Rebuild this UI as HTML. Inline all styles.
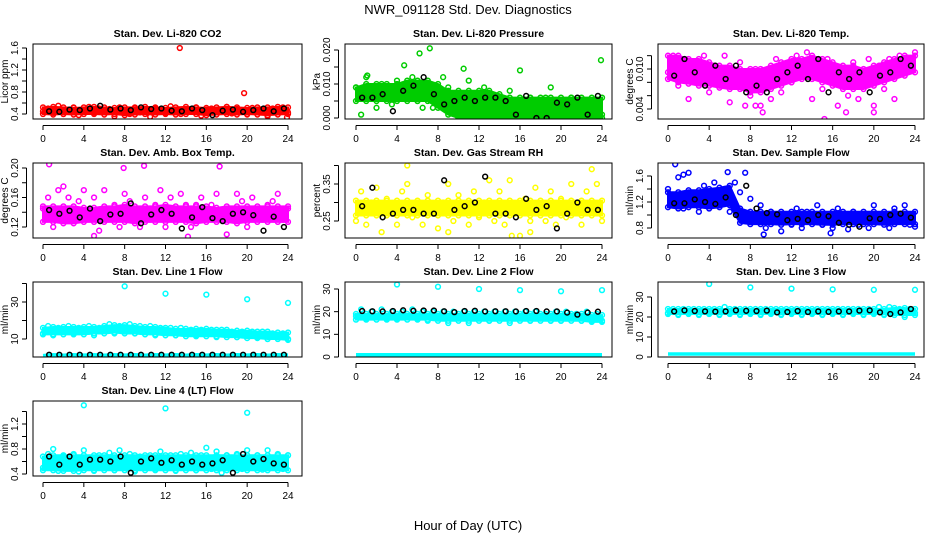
<!DOCTYPE html>
<html><head><meta charset="utf-8"><style>
html,body{margin:0;padding:0;background:#fff}
svg{display:block;font-family:"Liberation Sans",Arial,sans-serif}
</style></head><body>
<svg id="chart" width="936" height="540" viewBox="0 0 936 540">
<rect width="936" height="540" fill="#fff"/>
<text x="468" y="14" text-anchor="middle" font-size="13">NWR_091128  Std. Dev. Diagnostics</text>
<text x="468" y="530" text-anchor="middle" font-size="13">Hour of Day (UTC)</text>
</svg>
<script>
const xTicks=[0,4,8,12,16,20,24];
const hours=[0,1,2,3,4,5,6,7,8,9,10,11,12,13,14,15,16,17,18,19,20,21,22,23,24];
// P1 CO2
const co2Hi=[0.52,0.53,0.52,0.51,0.52,0.53,0.52,0.51,0.52,0.52,0.53,0.52,0.51,0.52,0.53,0.52,0.51,0.52,0.53,0.52,0.51,0.52,0.52,0.53,0.52];
const co2Lo=[0.4,0.39,0.4,0.39,0.4,0.4,0.39,0.4,0.38,0.39,0.4,0.39,0.4,0.39,0.4,0.4,0.38,0.39,0.4,0.39,0.4,0.39,0.38,0.39,0.4];
const co2Sc=[0.45,0.5,0.42,0.55,0.4,0.48,0.52,0.38,0.47,0.53,0.41,0.5,0.44,0.49,0.36,0.52,0.46,0.4,0.51,0.43,0.48,0.35,0.5,0.45,0.42,0.54,0.47,0.4,0.49,0.44,0.52,0.37,0.48,0.5,0.43,0.46,0.53,0.41,0.49,0.45,0.39,0.51,0.47,0.44,0.36,0.5,0.46,0.52,0.43];
const co2Blk=[0.45,0.44,0.48,0.47,0.5,0.55,0.48,0.5,0.47,0.52,0.49,0.5,0.46,0.45,0.5,0.47,0.38,0.46,0.48,0.44,0.47,0.5,0.45,0.5];
const co2OutX=[13.4,19.7,23.9];
const co2OutY=[1.6,0.78,0.34];
// P2 pressure
const prHi=[0.009,0.010,0.010,0.010,0.010,0.011,0.011,0.011,0.010,0.008,0.008,0.008,0.008,0.008,0.007,0.006,0.006,0.006,0.006,0.006,0.006,0.006,0.006,0.006,0.006];
const prLo=[0.005,0.005,0.005,0.005,0.005,0.005,0.005,0.005,0.003,0.001,0.0,0.0,0.0,0.0,0.0,0.0,0.0,0.0,0.0,0.0,0.0,0.0,0.0,0.0,0.0];
const prSc=[0.009,0.001,0.012,0.007,0.003,0.010,0.008,0.004,0.011,0.006,0.009,0.012,0.005,0.003,0.008,0.003,0.006,0.012,0.009,0.003,0.0,0.007,0.011,0.005,0.001,0.009,0.006,0.0,0.004,0.003,0.008,0.002,0.005,0.0,0.006,0.003,0.001,0.006,0.009,0.0,0.004,0.002,0.006,0.0,0.004,0.002,0.005,0.003,0.001];
const prBlk=[0.006,0.006,0.007,0.002,0.008,0.0095,0.012,0.007,0.004,0.005,0.006,0.005,0.006,0.006,0.005,0.001,0.0065,0.0,0.0,0.0045,0.004,0.006,0.001,0.0065];
const prOutX=[6.2,7.2,23.9,16,10.5,1.1,4.7];
const prOutY=[0.019,0.0205,0.017,0.014,0.0145,0.0125,0.0155];
// P3 Li-820 temp
const tpHi=[0.012,0.012,0.0115,0.0115,0.011,0.0105,0.0105,0.01,0.01,0.01,0.0105,0.011,0.0115,0.0115,0.012,0.0115,0.011,0.0105,0.0105,0.01,0.0105,0.011,0.0115,0.012,0.012];
const tpLo=[0.0085,0.008,0.0078,0.0075,0.0075,0.0072,0.007,0.007,0.0065,0.0065,0.007,0.0075,0.008,0.0085,0.0085,0.008,0.0075,0.007,0.007,0.007,0.0075,0.008,0.0085,0.009,0.0095];
const tpSc=[0.0095,0.012,0.0075,0.011,0.0055,0.0105,0.008,0.012,0.0065,0.0105,0.0075,0.012,0.005,0.0095,0.011,0.0045,0.006,0.01,0.0045,0.009,0.0055,0.0115,0.0065,0.0105,0.008,0.012,0.0095,0.0125,0.0055,0.011,0.007,0.0115,0.0105,0.0045,0.0095,0.006,0.011,0.0055,0.0095,0.0115,0.0045,0.0105,0.007,0.0115,0.0055,0.012,0.0095,0.0105,0.0125];
const tpBlk=[0.009,0.0115,0.0095,0.0075,0.0105,0.0085,0.0105,0.0065,0.0075,0.0065,0.0085,0.0095,0.0105,0.0085,0.0115,0.0065,0.0095,0.0085,0.0095,0.0065,0.009,0.0095,0.0115,0.0105];
const tpOutX=[15.2,17.3,20,9.2,8.5];
const tpOutY=[0.0025,0.0035,0.0035,0.0035,0.0045];
// P4 amb box temp
const abHi=[0.148,0.148,0.148,0.148,0.146,0.146,0.148,0.148,0.15,0.148,0.148,0.148,0.15,0.148,0.148,0.148,0.148,0.146,0.148,0.148,0.148,0.148,0.148,0.148,0.148];
const abLo=[0.127,0.127,0.125,0.125,0.127,0.127,0.127,0.127,0.127,0.125,0.127,0.127,0.127,0.127,0.127,0.125,0.127,0.127,0.127,0.125,0.127,0.127,0.127,0.127,0.127];
const abSc=[0.145,0.16,0.12,0.17,0.175,0.16,0.13,0.155,0.17,0.14,0.16,0.115,0.17,0.135,0.15,0.12,0.165,0.155,0.14,0.12,0.16,0.13,0.15,0.17,0.12,0.16,0.135,0.165,0.15,0.12,0.15,0.16,0.13,0.15,0.165,0.14,0.11,0.13,0.165,0.155,0.12,0.16,0.145,0.13,0.15,0.155,0.165,0.13,0.145];
const abBlk=[0.143,0.138,0.142,0.133,0.145,0.128,0.137,0.138,0.152,0.125,0.137,0.143,0.138,0.118,0.133,0.147,0.132,0.128,0.138,0.14,0.136,0.115,0.134,0.12];
const abOutX=[0.6,7.9,9.9,17.3,5,14.2];
const abOutY=[0.205,0.2,0.203,0.202,0.108,0.107];
// P5 gas stream RH
const rhHi=[0.305,0.305,0.305,0.305,0.305,0.305,0.305,0.305,0.305,0.305,0.305,0.305,0.305,0.305,0.305,0.305,0.305,0.305,0.305,0.305,0.305,0.305,0.305,0.305,0.305];
const rhLo=[0.265,0.265,0.265,0.265,0.265,0.265,0.265,0.265,0.265,0.265,0.265,0.265,0.265,0.265,0.265,0.265,0.265,0.265,0.265,0.265,0.265,0.265,0.265,0.265,0.265];
const rhSc=[0.25,0.33,0.24,0.3,0.34,0.22,0.31,0.27,0.24,0.33,0.35,0.26,0.3,0.24,0.32,0.27,0.23,0.3,0.35,0.25,0.32,0.28,0.24,0.33,0.26,0.3,0.36,0.25,0.33,0.24,0.36,0.27,0.21,0.31,0.25,0.34,0.29,0.25,0.33,0.24,0.31,0.26,0.35,0.28,0.24,0.33,0.29,0.35,0.25];
const rhBlk=[0.29,0.34,0.26,0.27,0.28,0.28,0.27,0.27,0.36,0.28,0.29,0.3,0.37,0.27,0.27,0.26,0.31,0.28,0.29,0.23,0.27,0.3,0.28,0.28];
const rhOutX=[5,9,23,17,15.2];
const rhOutY=[0.4,0.22,0.39,0.22,0.21];
// P6 sample flow
const sfHi=[1.35,1.35,1.38,1.38,1.4,1.42,1.45,1.1,1.05,1.05,1.05,1.05,1.05,1.05,1.05,1.05,1.05,1.05,1.05,1.05,1.05,1.05,1.05,1.05,1.05];
const sfLo=[1.12,1.1,1.12,1.12,1.1,1.12,1.15,0.88,0.86,0.86,0.86,0.85,0.86,0.86,0.86,0.85,0.85,0.86,0.86,0.86,0.86,0.85,0.86,0.86,0.86];
const sfSc=[1.4,1.2,1.58,1.1,1.65,1.3,1.05,1.45,1.25,1.5,1.15,1.4,1.05,1.5,1.35,1.65,1.25,0.95,1.15,0.8,1.05,0.9,0.75,1.0,0.85,1.1,0.8,1.05,0.95,1.15,0.85,1.0,0.8,1.1,0.95,0.78,1.05,0.85,1.0,0.8,1.15,0.9,1.0,0.8,1.1,0.9,1.15,0.85,0.82];
const sfBlk=[1.18,1.18,1.24,1.2,1.17,1.27,1.0,1.45,1.1,1.03,1.01,0.92,0.94,0.92,1.0,0.98,0.88,0.85,0.82,0.95,0.94,1.0,1.02,0.96];
const sfOutX=[0.7,1.5,5.8,9.3,15.8];
const sfOutY=[1.78,1.62,1.66,0.7,0.72];
// P7 line 1
const l1Hi=[16,16.5,16.5,16.5,16.5,16.5,17,17.5,17.5,17,16.5,16.5,16,15.5,15.5,15.5,15.5,15,15,14.5,14.5,14,14,13.5,13.5];
const l1Lo=[12.5,12.5,12.5,12.5,12.5,13,13,13.5,13,13,12.5,12.5,12,12,11.5,11.5,11.5,11.5,11,11,10.5,10.5,10,10,9.5];
const l1Sc=[13,17,12,16,14,17,13,16,14,17,12,16,15,18,13,17,14,18,13,17,14,17,12,16,15,16,12,16,14,15,12,15,13,15,11,15,13,14,11,14,12,14,11,14,10,13,11,13,10];
const l1Blk=[1.5,1.5,1.5,1.5,1.5,1.5,1.5,1.5,1.5,1.5,1.5,1.5,1.5,1.5,1.5,1.5,1.5,1.5,1.5,1.5,1.5,1.5,1.5,1.5];
const l1Base=[1,1.5,1.2,1.5,1.3,1.5,1.2,1.5,1.3,1.5,1.2,1.5,1.3,1.5,1.2,1.5,1.3,1.5,1.2,1.5,1.3,1.5,1.2,1.5,1.3];
const l1OutX=[4,8,12,16,20,24];
const l1OutY=[43,38.5,34.5,34,31.5,29.5];
// P8 line 2
const l2Hi=[19,19,19,19,19,19,19,19,19,19,19,19,19,19,19,19,19,19,19,19,19,19,19,18.5,18.5];
const l2Lo=[16.5,16.5,16.5,16.5,16.5,16.5,16.5,16.5,16,16,16,16,16,16,16,16,16,16,16,16,16,16,16,15.5,15.5];
const l2Sc=[18,21,17,20,18,21,17,20,17,20,18,21,17,20,16,20,17,20,15,20,17,20,15,20,17,20,16,20,17,20,15,20,17,20,16,20,17,19,16,20,16,20,17,19,16,20,16,19,16];
const l2Blk=[20.3,20.2,20.1,20.3,20.6,20.4,20.5,20.5,20.2,19.8,20.3,20.4,20.1,20.2,20.2,20.1,20.3,20.3,20.1,20.1,19.6,18.7,19.6,20];
const l2Base=[1,1,1,1,1,1,1,1,1,1,1,1,1,1,1,1,1,1,1,1,1,1,1,1,1];
const l2OutX=[4,8,12,16,20,24];
const l2OutY=[32,31,30,29.5,29,29.5];
// P9 line 3
const l3Hi=[24,24,24,24,24,24,24,24,24,24,24,24,24,24,24,24,24,24,24,24,24,24,24.5,24.5,24];
const l3Lo=[21.5,21.5,21.5,21.5,21.5,21.5,21.5,21.5,21.5,21.5,21.5,21.5,21.5,21.5,21.5,21.5,21.5,21.5,21.5,21.5,21.5,21.5,21,21,21];
const l3Sc=[22,24,21,24,22,24,21,24,22,24,21,25,22,24,21,24,22,24,21,24,22,24,21,24,22,24,21,24,22,24,21,24,22,24,21,24,22,24,21,24,22,25,21,25,22,24,20,24,22];
const l3Blk=[22.8,23.3,23,22.8,22.7,22.8,23.3,23.1,23,23.2,22.3,22.5,23,22.5,22.8,22.6,22.8,22.8,23.2,23.3,22.3,21.5,22.3,24];
const l3Base=[1.5,1.5,1.5,1.5,1.5,1.5,1.5,1.5,1.5,1.5,1.5,1.5,1.5,1.5,1.5,1.5,1.5,1.5,1.5,1.5,1.5,1.5,1.5,1.5,1.5];
const l3OutX=[4,8,12,16,20,24];
const l3OutY=[36.5,34.8,34.2,33.8,33.6,33.6];
// P10 line 4
const l4Hi=[0.68,0.7,0.7,0.7,0.7,0.7,0.7,0.7,0.7,0.7,0.7,0.7,0.7,0.7,0.7,0.7,0.7,0.7,0.7,0.7,0.7,0.7,0.7,0.7,0.7];
const l4Lo=[0.46,0.46,0.45,0.45,0.46,0.46,0.46,0.46,0.46,0.46,0.46,0.46,0.46,0.46,0.46,0.46,0.46,0.46,0.46,0.46,0.46,0.46,0.46,0.46,0.46];
const l4Sc=[0.5,0.72,0.8,0.45,0.68,0.5,0.72,0.44,0.78,0.6,0.45,0.7,0.5,0.74,0.46,0.78,0.5,0.72,0.44,0.68,0.5,0.7,0.47,0.76,0.52,0.7,0.45,0.72,0.5,0.74,0.46,0.7,0.82,0.48,0.76,0.42,0.7,0.5,0.72,0.48,0.78,0.5,0.7,0.47,0.78,0.5,0.72,0.48,0.7];
const l4Blk=[0.68,0.55,0.68,0.55,0.63,0.63,0.6,0.68,0.42,0.6,0.65,0.58,0.62,0.55,0.6,0.55,0.57,0.62,0.42,0.72,0.6,0.64,0.57,0.55];
const l4OutX=[4,12,20];
const l4OutY=[1.5,1.45,1.38];

const SVGNS="http://www.w3.org/2000/svg";
const svg=document.getElementById('chart');
const x0=[43,356,668], x24=[288,602,915], boxL=[33,345,658], boxR=[302,612,924];
const rowTop=[44,163,282,401], H=75;
function mk(tag,attrs,parent){const e=document.createElementNS(SVGNS,tag);for(const k in attrs)e.setAttribute(k,attrs[k]);(parent||svg).appendChild(e);return e;}

function panel(o){
  const T=rowTop[o.r],L=boxL[o.c],R=boxR[o.c];
  const xs=h=>x0[o.c]+h*(x24[o.c]-x0[o.c])/24;
  const ys=v=>T+o.ya+(v-o.v1)*(o.yb-o.ya)/(o.v2-o.v1);
  const g=mk('g',{});
  
  
  const cp=mk('clipPath',{id:'cp'+o.name},g);
  mk('rect',{x:L,y:T,width:R-L,height:H},cp);
  const plot=mk('g',{'clip-path':'url(#cp'+o.name+')'},g);
  const circ=(h,v,col,nm)=>{const c=mk('circle',{cx:xs(h),cy:ys(v),r:2.4,fill:'none',stroke:col,'stroke-width':1.5},plot);
    
    };
  if(o.hi){
    let pts=hours.map((h,i)=>xs(h)+','+ys(o.hi[i]));
    pts=pts.concat(hours.slice().reverse().map((h,j)=>xs(h)+','+ys(o.lo[24-j])));
    const p=mk('polygon',{points:pts.join(' '),fill:o.col,stroke:o.col,'stroke-width':2},plot);
    
    
    hours.forEach((h,i)=>{circ(h,o.hi[i],o.col,'band-point');circ(h,o.lo[i],o.col,'band-point');});
  }
  if(o.base){
    const bp=hours.map((h,i)=>xs(h)+','+ys(o.base[i]));
    const pl=mk('polyline',{points:bp.join(' '),fill:'none',stroke:o.col,'stroke-width':3.5},plot);
    
    
  }
  o.sc.forEach((v,i)=>circ(i*0.5,v,o.col,'scatter-point'));
  o.ox.forEach((h,i)=>circ(h,o.oy[i],o.col,'outlier-point'));
  o.blk.forEach((v,i)=>circ(i+0.6,v,'#000','hourly-point'));
  mk('rect',{x:L,y:T,width:R-L,height:H,fill:'none',stroke:'#000','stroke-width':1},g);
  const ax=mk('g',{},g);
  
  
  mk('line',{x1:xs(0),x2:xs(24),y1:T+H+6.5,y2:T+H+6.5,stroke:'#000'},ax);
  xTicks.forEach(t=>{mk('line',{x1:xs(t),x2:xs(t),y1:T+H+6.5,y2:T+H+11,stroke:'#000'},ax);
    const tx=mk('text',{x:xs(t),y:T+H+23,'text-anchor':'middle','font-size':10},ax);tx.textContent=t;
    
    });
  const ay=mk('g',{},g);
  
  
  const yt=o.ticks.map(ys);
  mk('line',{x1:L-6.5,x2:L-6.5,y1:Math.min(...yt),y2:Math.max(...yt),stroke:'#000'},ay);
  o.ticks.forEach((t,i)=>{mk('line',{x1:L-6.5,x2:L-11,y1:yt[i],y2:yt[i],stroke:'#000'},ay);
    if(o.labels[i]!==''){const tx=mk('text',{x:L-15,y:yt[i],'text-anchor':'middle','font-size':10,transform:'rotate(-90 '+(L-15)+' '+yt[i]+')'},ay);tx.textContent=o.labels[i];
    
    }});
  const yl=mk('text',{x:L-25,y:T+H/2,'text-anchor':'middle','font-size':10,transform:'rotate(-90 '+(L-25)+' '+(T+H/2)+')'},g);
  yl.textContent=o.ylab;
  
  
  const ti=mk('text',{x:(L+R)/2,y:T-7,'text-anchor':'middle','font-size':10.5,'font-weight':'bold'},g);
  ti.textContent=o.title;
  
  
}
const red='#ff0000',grn='#00cc00',mag='#ff00ff',yel='#ffff00',blu='#0000ff',cya='#00ffff';
panel({name:'panel-co2',r:0,c:0,title:'Stan. Dev. Li-820 CO2',ylab:'Licor ppm',v1:1.6,ya:4,v2:0.4,yb:70,ticks:[0.4,0.6,0.8,1.0,1.2,1.4,1.6],labels:['0.4','','0.8','','1.2','','1.6'],col:red,hi:co2Hi,lo:co2Lo,sc:co2Sc,blk:co2Blk,ox:co2OutX,oy:co2OutY});
panel({name:'panel-pressure',r:0,c:1,title:'Stan. Dev. Li-820 Pressure',ylab:'kPa',v1:0.02,ya:6,v2:0,yb:74,ticks:[0,0.005,0.01,0.015,0.02],labels:['0.000','','0.010','','0.020'],col:grn,hi:prHi,lo:prLo,sc:prSc,blk:prBlk,ox:prOutX,oy:prOutY});
panel({name:'panel-li820-temp',r:0,c:2,title:'Stan. Dev. Li-820 Temp.',ylab:'degrees C',v1:0.01,ya:25,v2:0.004,yb:65,ticks:[0.004,0.006,0.008,0.01,0.012],labels:['0.004','','','0.010',''],col:mag,hi:tpHi,lo:tpLo,sc:tpSc,blk:tpBlk,ox:tpOutX,oy:tpOutY});
panel({name:'panel-amb-box-temp',r:1,c:0,title:'Stan. Dev. Amb. Box Temp.',ylab:'degrees C',v1:0.2,ya:5,v2:0.12,yb:64,ticks:[0.12,0.14,0.16,0.18,0.2],labels:['0.12','','0.16','','0.20'],col:mag,hi:abHi,lo:abLo,sc:abSc,blk:abBlk,ox:abOutX,oy:abOutY});
panel({name:'panel-gas-rh',r:1,c:1,title:'Stan. Dev. Gas Stream RH',ylab:'percent',v1:0.35,ya:21,v2:0.25,yb:58,ticks:[0.25,0.3,0.35,0.4],labels:['0.25','','0.35',''],col:yel,hi:rhHi,lo:rhLo,sc:rhSc,blk:rhBlk,ox:rhOutX,oy:rhOutY});
panel({name:'panel-sample-flow',r:1,c:2,title:'Stan. Dev. Sample Flow',ylab:'ml/min',v1:1.6,ya:13,v2:0.8,yb:65,ticks:[0.8,1.0,1.2,1.4,1.6],labels:['0.8','','1.2','','1.6'],col:blu,hi:sfHi,lo:sfLo,sc:sfSc,blk:sfBlk,ox:sfOutX,oy:sfOutY});
panel({name:'panel-line1-flow',r:2,c:0,title:'Stan. Dev. Line 1 Flow',ylab:'ml/min',v1:30,ya:20,v2:10,yb:57,ticks:[10,20,30,40],labels:['10','','30',''],col:cya,hi:l1Hi,lo:l1Lo,base:l1Base,sc:l1Sc,blk:l1Blk,ox:l1OutX,oy:l1OutY});
panel({name:'panel-line2-flow',r:2,c:1,title:'Stan. Dev. Line 2 Flow',ylab:'ml/min',v1:30,ya:7,v2:0,yb:75,ticks:[0,10,20,30],labels:['0','10','20','30'],col:cya,hi:l2Hi,lo:l2Lo,base:l2Base,sc:l2Sc,blk:l2Blk,ox:l2OutX,oy:l2OutY});
panel({name:'panel-line3-flow',r:2,c:2,title:'Stan. Dev. Line 3 Flow',ylab:'ml/min',v1:30,ya:15,v2:0,yb:75,ticks:[0,10,20,30],labels:['0','10','20','30'],col:cya,hi:l3Hi,lo:l3Lo,base:l3Base,sc:l3Sc,blk:l3Blk,ox:l3OutX,oy:l3OutY});
panel({name:'panel-line4-flow',r:3,c:0,title:'Stan. Dev. Line 4 (LT) Flow',ylab:'ml/min',v1:1.2,ya:23,v2:0.4,yb:73,ticks:[0.4,0.6,0.8,1.0,1.2,1.4],labels:['0.4','','0.8','','1.2',''],col:cya,hi:l4Hi,lo:l4Lo,sc:l4Sc,blk:l4Blk,ox:l4OutX,oy:l4OutY});
</script>
</body></html>
